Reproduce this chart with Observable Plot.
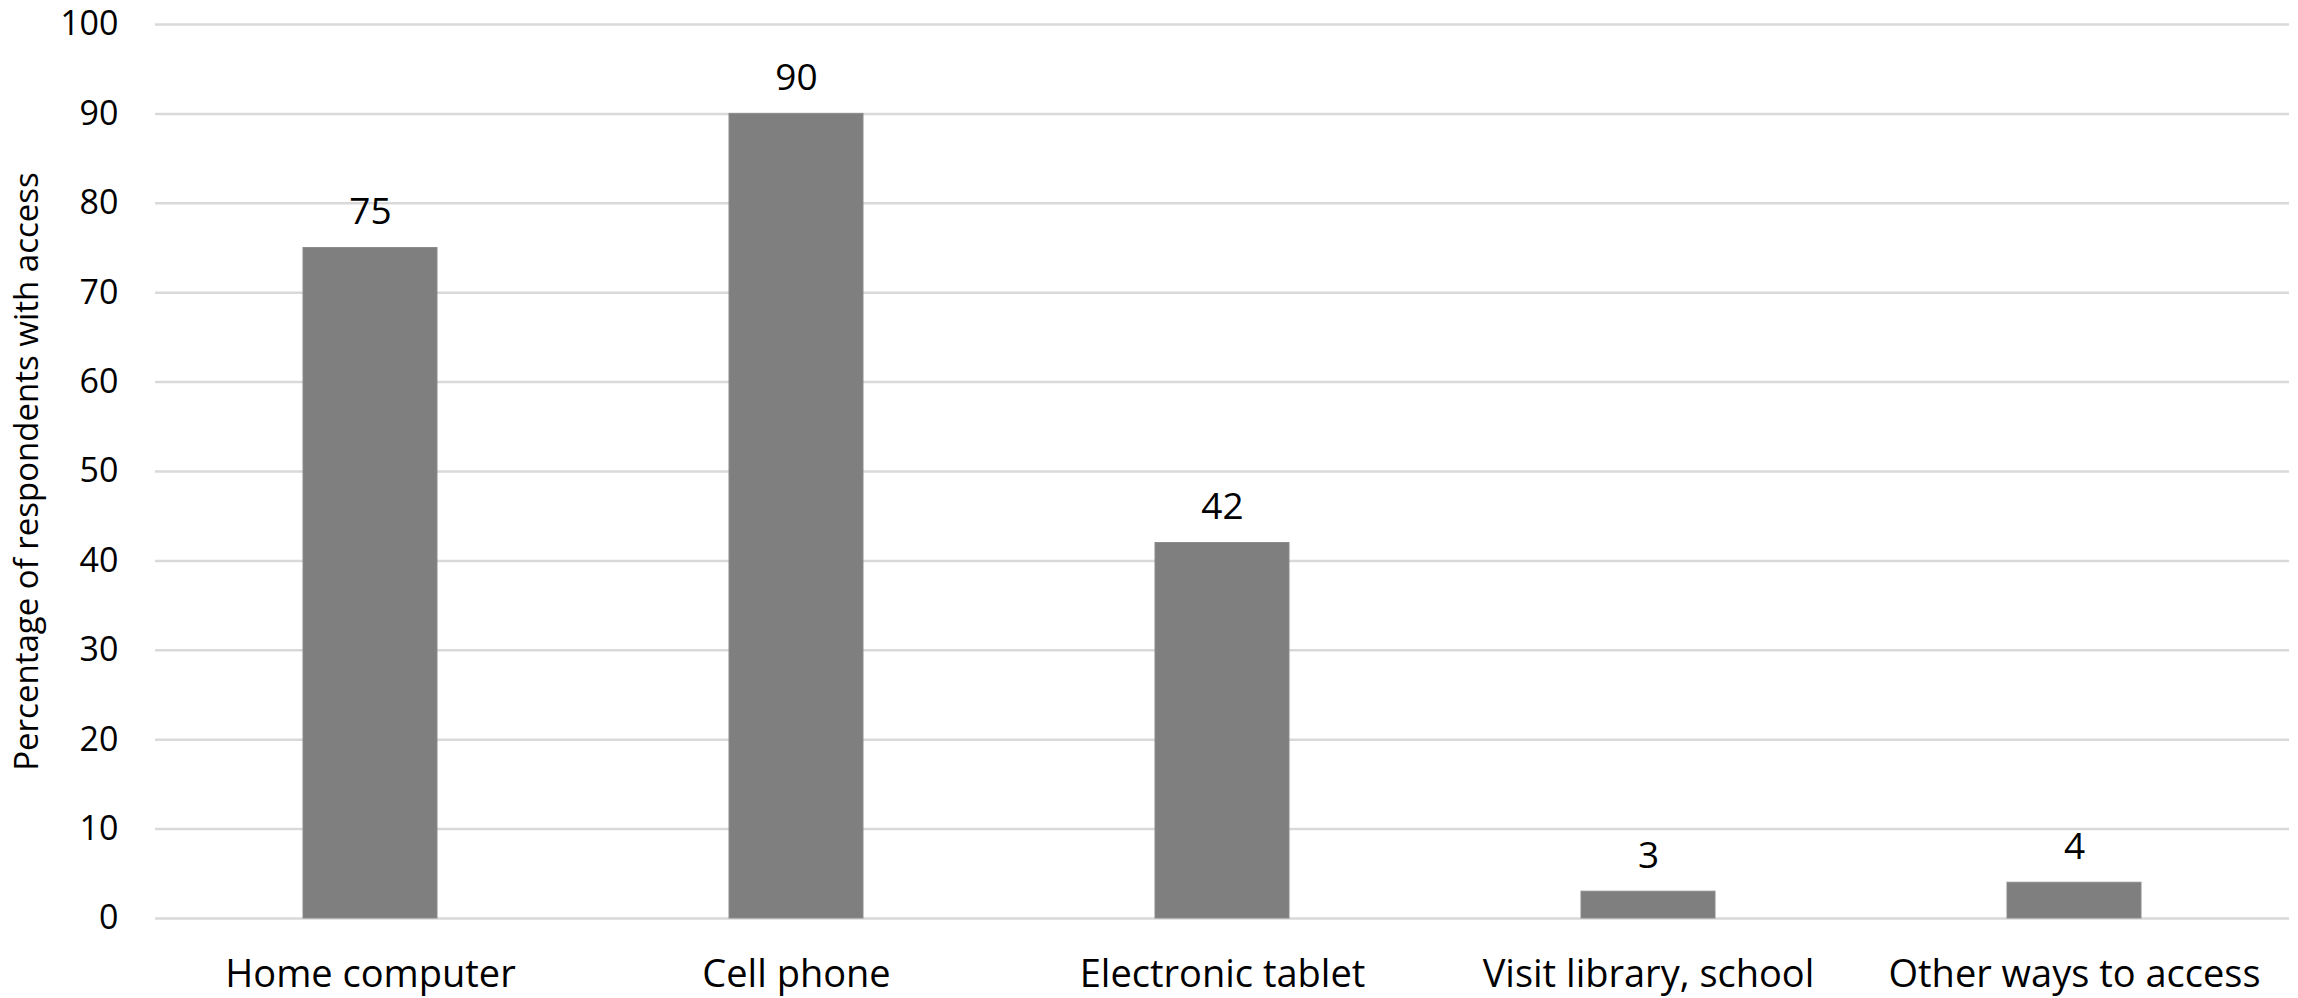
<!DOCTYPE html>
<html>
<head>
<meta charset="utf-8">
<script src="https://cdn.jsdelivr.net/npm/d3@7"></script>
<script src="https://cdn.jsdelivr.net/npm/@observablehq/plot@0.6"></script>
<style>
  html, body { margin: 0; padding: 0; background: #fff; }
  #chart { width: 2298px; height: 998px; }
</style>
</head>
<body>
<div id="chart"></div>
<script>
const categories = ["Home computer", "Cell phone", "Electronic tablet", "Visit library, school", "Other ways to access"];
const values = [75, 90, 42, 3, 4];
const yTicks = [0, 10, 20, 30, 40, 50, 60, 70, 80, 90, 100];
const yLabel = "Percentage of respondents with access";

const data = categories.map((c, i) => ({category: c, value: values[i]}));

const font = "'Open Sans', sans-serif";

const chart = Plot.plot({
  width: 2298,
  height: 998,
  marginLeft: 155,
  marginRight: 9,
  marginTop: 24,
  marginBottom: 80,
  style: {fontFamily: font, background: "#fff", color: "#000"},
  x: {domain: categories, paddingInner: 0.686, paddingOuter: 0.343, align: 0.5},
  y: {domain: [0, 100]},
  marks: [
    Plot.ruleY(yTicks, {stroke: "#d9d9d9", strokeWidth: 2.5}),
    Plot.barY(data, {x: "category", y: "value", fill: "#7f7f7f", stroke: "#8c8c8c", strokeWidth: 1}),
    Plot.text(data, {x: "category", y: "value", text: d => String(d.value), dy: -24, lineAnchor: "bottom", fontSize: 37, fill: "#000"}),
    Plot.axisY({ticks: yTicks, tickSize: 0, tickPadding: 37, fontSize: 34, label: null, fill: "#000"}),
    Plot.axisX({tickSize: 0, tickPadding: 42, fontSize: 38, label: null, fill: "#000"}),
    Plot.text([yLabel], {frameAnchor: "left", dx: -128, rotate: -90, fontSize: 33, fill: "#000", textAnchor: "middle"})
  ]
});
document.getElementById("chart").appendChild(chart);
</script>
</body>
</html>
